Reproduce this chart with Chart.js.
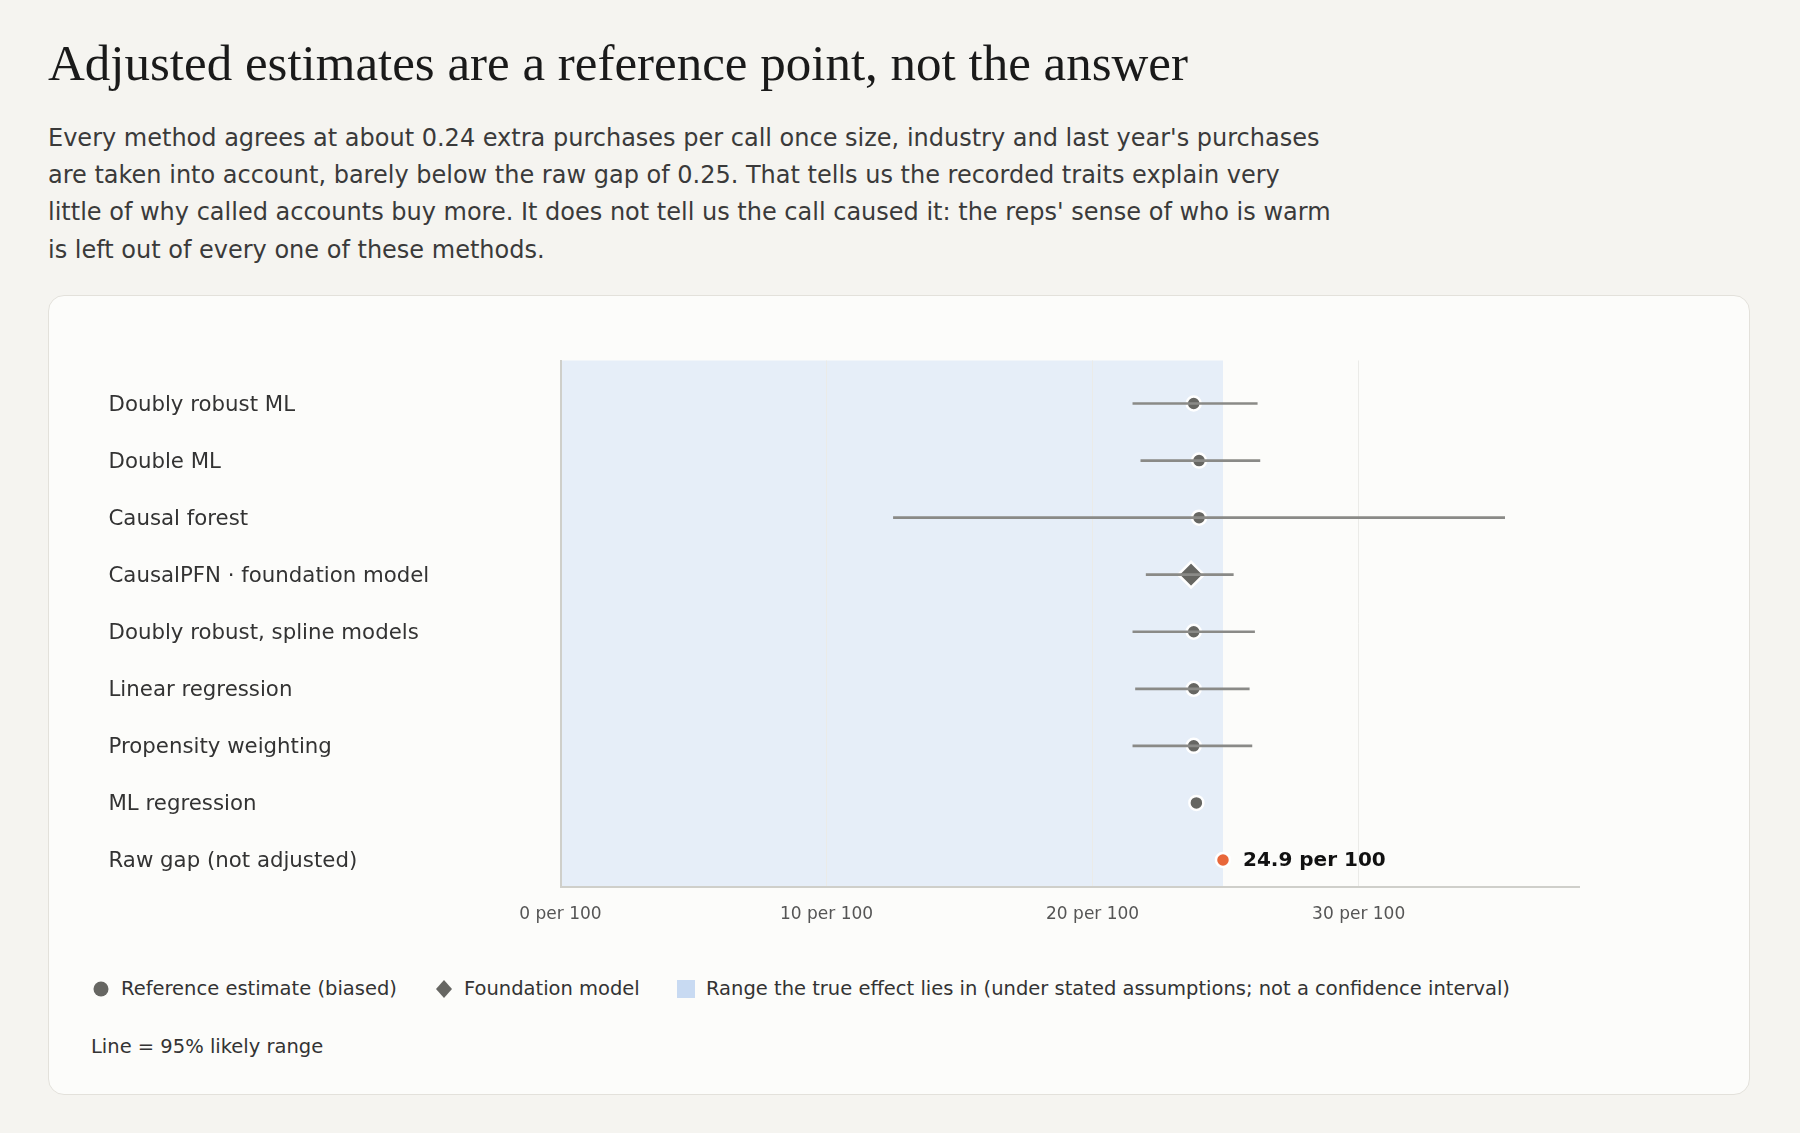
<!DOCTYPE html>
<html>
<head>
<meta charset="utf-8">
<script src="https://cdn.jsdelivr.net/npm/chart.js@4.4.1/dist/chart.umd.min.js"></script>
<style>
  html, body { margin: 0; padding: 0; background: #f5f4f0; }
  body { width: 1800px; height: 1133px; position: relative; overflow: hidden; font-family: "DejaVu Sans", sans-serif; }
  h1 {
    position: absolute; left: 48px; top: 33px; margin: 0;
    font-family: "Liberation Serif", serif; font-weight: normal;
    font-size: 51px; line-height: 60px; color: #1a1a1a; white-space: nowrap;
  }
  .sub {
    position: absolute; left: 48px; top: 120px; width: 1287px; margin: 0;
    font-size: 24px; line-height: 37.2px; color: #3a3a3a;
  }
  .card {
    position: absolute; left: 48px; top: 295px; width: 1700px; height: 798px;
    background: #fcfcfa; border: 1.5px solid #e3e1db; border-radius: 16px;
  }
  .chartWrap { position: absolute; left: 0; top: 0; width: 1700px; height: 660px; }
  .legend { position: absolute; top: 683px; left: 0; height: 20px; font-size: 19.5px; color: #333; }
  .legend span { position: absolute; white-space: nowrap; top: 0; line-height: 20px; }
  .mk { position: absolute; }
  .note { position: absolute; left: 42px; top: 740px; font-size: 19.5px; color: #333; white-space: nowrap; line-height: 22px; }
</style>
</head>
<body>
<h1>Adjusted estimates are a reference point, not the answer</h1>
<p class="sub">Every method agrees at about 0.24 extra purchases per call once size, industry and last year's purchases are taken into account, barely below the raw gap of 0.25. That tells us the recorded traits explain very little of why called accounts buy more. It does not tell us the call caused it: the reps' sense of who is warm is left out of every one of these methods.</p>

<div class="card">
  <div class="chartWrap"><canvas id="forest"></canvas></div>
  <div class="legend">
    <svg class="mk" style="left:44px;top:2px" width="16" height="16"><circle cx="8" cy="8" r="7.5" fill="#666662"/></svg>
    <span style="left:72px">Reference estimate (biased)</span>
    <svg class="mk" style="left:386px;top:1px" width="18" height="18"><polygon points="9,0 17,9 9,18 1,9" fill="#666662"/></svg>
    <span style="left:415px">Foundation model</span>
    <div class="mk" style="left:628px;top:1px;width:18px;height:18px;background:#c8daf2"></div>
    <span style="left:657px">Range the true effect lies in (under stated assumptions; not a confidence interval)</span>
  </div>
  <div class="note">Line = 95% likely range</div>
</div>

<script>
// rows, top to bottom
const methods = [
  'Doubly robust ML',
  'Double ML',
  'Causal forest',
  'CausalPFN \u00b7 foundation model',
  'Doubly robust, spline models',
  'Linear regression',
  'Propensity weighting',
  'ML regression',
  'Raw gap (not adjusted)'
];
// extra purchases per 100 calls
const estimates = [23.8, 24.0, 24.0, 23.7, 23.8, 23.8, 23.8, 23.9, 24.9];
const lower     = [21.5, 21.8, 12.5, 22.0, 21.5, 21.6, 21.5, null, null];
const upper     = [26.2, 26.3, 35.5, 25.3, 26.1, 25.9, 26.0, null, null];
const markerKind = ['ref', 'ref', 'ref', 'foundation', 'ref', 'ref', 'ref', 'ref', 'raw'];

// range the true effect lies in
const trueRange = [0, 24.9];
const xTicks = [0, 10, 20, 30];
const xMax = 38.3;

const GRAY = '#666662';
const ORANGE = '#e8673a';

const ciData = [];
methods.forEach((m, i) => {
    if (lower[i] === null) return;
    ciData.push({ x: lower[i], y: i }, { x: upper[i], y: i }, { x: upper[i], y: null });
});

const pointsOf = kind => methods
    .map((m, i) => ({ x: estimates[i], y: i, kind: markerKind[i] }))
    .filter(p => p.kind === kind);

// shaded band behind the grid
const bandPlugin = {
    id: 'band',
    beforeDraw(chart) {
        const { ctx, chartArea, scales } = chart;
        const x0 = scales.x.getPixelForValue(trueRange[0]);
        const x1 = scales.x.getPixelForValue(trueRange[1]);
        ctx.save();
        ctx.fillStyle = '#e6eef8';
        ctx.fillRect(x0, chartArea.top, x1 - x0, chartArea.bottom - chartArea.top);
        ctx.restore();
    }
};

// value label next to the raw gap point
const rawLabelPlugin = {
    id: 'rawLabel',
    afterDatasetsDraw(chart) {
        const { ctx, scales } = chart;
        const i = markerKind.indexOf('raw');
        const x = scales.x.getPixelForValue(estimates[i]);
        const y = scales.y.getPixelForValue(i);
        ctx.save();
        ctx.font = 'bold 20px "DejaVu Sans"';
        ctx.fillStyle = '#111';
        ctx.textBaseline = 'middle';
        ctx.fillText(`${estimates[i].toFixed(1)} per 100`, x + 20, y + 1);
        ctx.restore();
    }
};

const ctx = document.getElementById('forest').getContext('2d');
new Chart(ctx, {
    type: 'scatter',
    data: {
        datasets: [
            {
                label: 'Line = 95% likely range',
                data: ciData,
                showLine: true,
                spanGaps: false,
                borderColor: '#8a8a87',
                borderWidth: 2.7,
                pointRadius: 0
            },
            {
                label: 'Reference estimate (biased)',
                data: pointsOf('ref'),
                pointStyle: 'circle',
                pointRadius: 7,
                backgroundColor: GRAY,
                borderColor: '#ffffff',
                borderWidth: 2.5
            },
            {
                label: 'Foundation model',
                data: pointsOf('foundation'),
                pointStyle: 'rectRot',
                pointRadius: 12.8,
                backgroundColor: GRAY,
                borderColor: '#ffffff',
                borderWidth: 2.5
            },
            {
                label: 'Raw gap',
                data: pointsOf('raw'),
                pointStyle: 'circle',
                pointRadius: 7,
                backgroundColor: ORANGE,
                borderColor: '#ffffff',
                borderWidth: 2.5
            }
        ]
    },
    options: {
        responsive: true,
        maintainAspectRatio: false,
        animation: false,
        layout: { padding: { left: 59.5, top: 64.5, right: 169.5, bottom: 19 } },
        plugins: {
            legend: { display: false },
            tooltip: { enabled: false }
        },
        scales: {
            x: {
                type: 'linear',
                min: 0,
                max: xMax,
                afterBuildTicks: axis => { axis.ticks = xTicks.map(v => ({ value: v })); },
                afterFit: axis => { axis.height = 50; },
                grid: { color: '#ebebe8', lineWidth: 1, drawTicks: false },
                border: { color: '#cfcfca', width: 2 },
                ticks: {
                    padding: 17,
                    color: '#555',
                    font: { family: 'DejaVu Sans', size: 17 },
                    callback: v => `${v} per 100`
                }
            },
            y: {
                type: 'linear',
                reverse: true,
                min: -0.754,
                max: 8.474,
                afterBuildTicks: axis => { axis.ticks = methods.map((m, i) => ({ value: i })); },
                afterFit: axis => { axis.width = 452; },
                grid: { display: false, drawTicks: false },
                border: { color: '#cfcfca', width: 2 },
                ticks: {
                    crossAlign: 'far',
                    padding: 0,
                    labelOffset: 2,
                    color: '#333',
                    font: { family: 'DejaVu Sans', size: 21.3 },
                    callback: v => methods[v]
                }
            }
        }
    },
    plugins: [bandPlugin, rawLabelPlugin]
});
</script>
</body>
</html>
